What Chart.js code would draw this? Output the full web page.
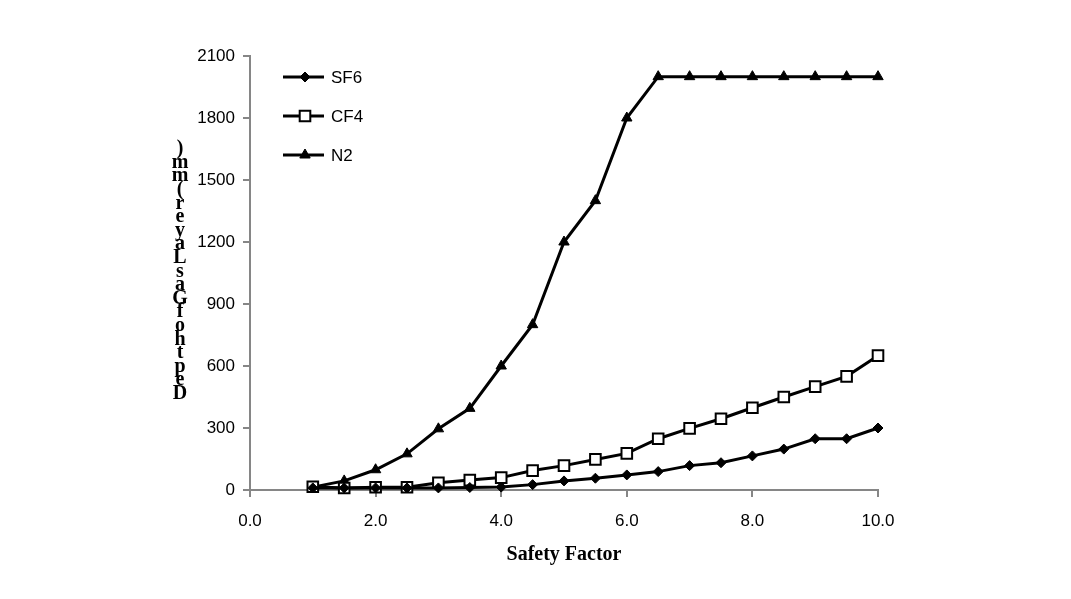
<!DOCTYPE html>
<html>
<head>
<meta charset="utf-8">
<script src="https://cdn.jsdelivr.net/npm/chart.js@4/dist/chart.umd.min.js"></script>
<style>
  html, body { margin: 0; padding: 0; background: #fff; }
  #wrap { position: relative; width: 1071px; height: 599px; }
</style>
</head>
<body>
<div id="wrap"><canvas id="c" width="1071" height="599"></canvas></div>
<script>
const safetyFactor = [1, 1.5, 2, 2.5, 3, 3.5, 4, 4.5, 5, 5.5, 6, 6.5, 7, 7.5, 8, 8.5, 9, 9.5, 10];
const sf6 = [10, 10, 10, 10, 10, 12, 14, 26, 44, 57, 73, 89, 118, 132, 165, 198, 248, 248, 300];
const cf4 = [16, 10, 13, 13, 35, 48, 60, 94, 118, 148, 177, 248, 298, 345, 398, 450, 500, 550, 650];
const n2  = [14, 44, 98, 175, 296, 395, 600, 800, 1200, 1400, 1800, 2000, 2000, 2000, 2000, 2000, 2000, 2000, 2000];
const seriesNames = ['SF6', 'CF4', 'N2'];
const xTitle = 'Safety Factor';
const yTitle = 'Depth of Gas Layer (mm)';

const AXIS = '#868686';
const TICK_FONT = '"Liberation Sans", Arial, sans-serif';

function pts(vals) { return safetyFactor.map((x, i) => ({ x: x, y: vals[i] })); }

const datasets = [
  { label: seriesNames[0], data: pts(sf6), borderColor: '#000', backgroundColor: '#000', borderWidth: 3,
    pointStyle: 'rectRot', pointRadius: 5, pointBorderWidth: 1, pointBackgroundColor: '#000', pointBorderColor: '#000' },
  { label: seriesNames[1], data: pts(cf4), borderColor: '#000', backgroundColor: '#fff', borderWidth: 3,
    pointStyle: 'rect', pointRadius: 7.5, pointBorderWidth: 2, pointBackgroundColor: '#fff', pointBorderColor: '#000' },
  { label: seriesNames[2], data: pts(n2), borderColor: '#000', backgroundColor: '#000', borderWidth: 3,
    pointStyle: 'triangle', pointRadius: 6, pointBorderWidth: 1, pointBackgroundColor: '#000', pointBorderColor: '#000' }
];

const legendPlugin = {
  id: 'insideLegend',
  afterDraw(chart) {
    const ctx = chart.ctx;
    const ys = [77, 116, 155];
    chart.data.datasets.forEach((ds, i) => {
      const y = ys[i];
      ctx.save();
      ctx.strokeStyle = '#000';
      ctx.lineWidth = 3;
      ctx.beginPath();
      ctx.moveTo(283, y);
      ctx.lineTo(324, y);
      ctx.stroke();
      ctx.fillStyle = ds.pointBackgroundColor;
      ctx.strokeStyle = ds.pointBorderColor;
      ctx.lineWidth = ds.pointBorderWidth;
      Chart.helpers.drawPoint(ctx, { pointStyle: ds.pointStyle, radius: ds.pointRadius, borderWidth: ds.pointBorderWidth, rotation: 0 }, 305, y);
      ctx.fillStyle = '#000';
      ctx.font = '17px ' + TICK_FONT;
      ctx.textBaseline = 'middle';
      ctx.textAlign = 'left';
      ctx.fillText(ds.label, 331, y + 1);
      ctx.restore();
    });
  }
};

const yTitlePlugin = {
  id: 'stackedYTitle',
  afterDraw(chart) {
    const ctx = chart.ctx;
    const chars = yTitle.replace(/ /g, '').split('').reverse();
    ctx.save();
    ctx.fillStyle = '#000';
    ctx.font = 'bold 20px "Liberation Serif", "Times New Roman", serif';
    ctx.textAlign = 'center';
    ctx.textBaseline = 'middle';
    const top = 149, step = 13.6;
    chars.forEach((ch, i) => ctx.fillText(ch, 180, top + i * step));
    ctx.restore();
  }
};

new Chart(document.getElementById('c'), {
  type: 'line',
  data: { datasets: datasets },
  plugins: [legendPlugin, yTitlePlugin],
  options: {
    responsive: false,
    animation: false,
    events: [],
    layout: { padding: { left: 0, right: 193, top: 56, bottom: 0 } },
    plugins: { legend: { display: false }, tooltip: { enabled: false } },
    elements: { line: { tension: 0 } },
    datasets: { line: { clip: false } },
    scales: {
      x: {
        type: 'linear', min: 0, max: 10,
        afterFit(s) { s.height = 109; },
        ticks: { stepSize: 2, color: '#000', padding: 14, maxRotation: 0,
          font: { family: TICK_FONT, size: 17 },
          callback: v => Number(v).toFixed(1) },
        grid: { drawOnChartArea: false, color: AXIS, lineWidth: 2, tickLength: 7, tickWidth: 2, tickColor: AXIS },
        border: { color: AXIS, width: 2 },
        title: { display: true, text: xTitle, color: '#000',
          font: { family: '"Liberation Serif", "Times New Roman", serif', size: 20, weight: 'bold', lineHeight: 1.2 },
          padding: { top: 0, bottom: 32 } }
      },
      y: {
        type: 'linear', min: 0, max: 2100,
        afterFit(s) { s.width = 250; },
        ticks: { stepSize: 300, color: '#000', padding: 8,
          font: { family: TICK_FONT, size: 17 },
          callback: v => String(v) },
        grid: { drawOnChartArea: false, color: AXIS, lineWidth: 2, tickLength: 7, tickWidth: 2, tickColor: AXIS },
        border: { color: AXIS, width: 2 }
      }
    }
  }
});
</script>
</body>
</html>
